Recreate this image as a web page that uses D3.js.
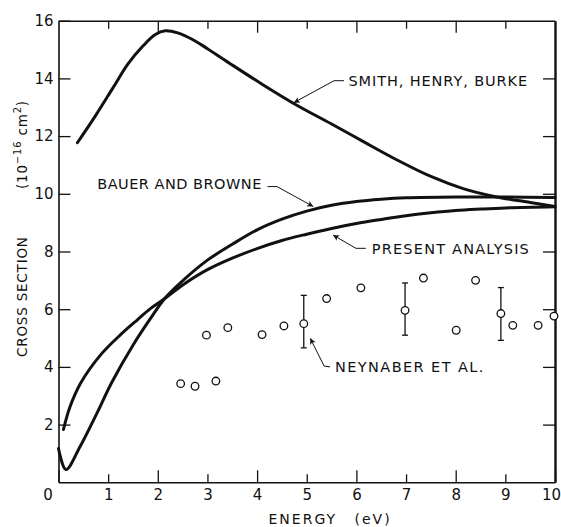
<!DOCTYPE html>
<html>
<head>
<meta charset="utf-8">
<script src="https://cdn.jsdelivr.net/npm/d3@7"></script>
<style>
body { margin: 0; background: #fff; }
svg { display: block; }
text { font-family: "DejaVu Sans", sans-serif; fill: #111; white-space: pre; }
</style>
</head>
<body>
<div id="vis"></div>
<script>
var w = 561,
    h = 527;

var energyTicks = [0, 1, 2, 3, 4, 5, 6, 7, 8, 9, 10];
var sigmaTicks = [2, 4, 6, 8, 10, 12, 14, 16];

// Smith, Henry, Burke
var shbE = [0.38, 0.75, 1.1, 1.4, 1.7, 1.95, 2.15, 2.4, 2.7, 3.0, 3.45, 4.1, 4.8, 5.5, 6.15, 6.8, 7.5, 8.15, 8.8, 9.5, 10];
var shbS = [11.77, 12.72, 13.68, 14.5, 15.12, 15.52, 15.65, 15.58, 15.35, 15.03, 14.52, 13.8, 13.07, 12.42, 11.8, 11.19, 10.6, 10.18, 9.9, 9.7, 9.56];

// Bauer and Browne
var bbE = [0, 0.15, 0.43, 0.77, 1.07, 1.5, 1.85, 2.14, 2.51, 3.0, 3.5, 4.0, 4.5, 5.0, 5.5, 6.0, 6.5, 7.0, 8.0, 9.0, 10];
var bbS = [1.17, 0.44, 1.22, 2.38, 3.45, 4.75, 5.67, 6.37, 7.0, 7.7, 8.25, 8.75, 9.12, 9.4, 9.6, 9.73, 9.81, 9.86, 9.89, 9.89, 9.87];

// present analysis
var paE = [0.1, 0.23, 0.45, 0.84, 1.24, 1.6, 1.85, 2.14, 2.51, 3.0, 3.5, 4.0, 4.5, 5.0, 5.5, 6.0, 6.5, 7.0, 7.5, 8.0, 8.5, 9.0, 10];
var paS = [1.83, 2.61, 3.45, 4.4, 5.1, 5.65, 6.02, 6.37, 6.85, 7.37, 7.77, 8.1, 8.38, 8.6, 8.8, 8.97, 9.11, 9.24, 9.34, 9.42, 9.47, 9.51, 9.55];

// Neynaber et al. (measured)
var neyE = [2.46, 2.75, 2.98, 3.17, 3.41, 4.10, 4.54, 4.94, 5.40, 6.09, 6.98, 7.35, 8.01, 8.40, 8.91, 9.15, 9.66, 9.98];
var neyS = [3.42, 3.33, 5.10, 3.51, 5.36, 5.12, 5.42, 5.50, 6.37, 6.74, 5.96, 7.08, 5.27, 7.00, 5.85, 5.44, 5.44, 5.76];
var barE = [4.94, 6.98, 8.91];
var barLo = [4.66, 5.10, 4.92];
var barHi = [6.48, 6.91, 6.75];

// labels: text position, then leader points ending at the arrow tip (data units)
var labels = [
    {text: "SMITH, HENRY, BURKE", at: [5.84, 13.72], ls: 0.9, lead: [[5.75, 13.92], [5.55, 13.92], [4.74, 13.16]]},
    {text: "BAUER AND BROWNE", at: [0.78, 10.15], ls: 0.5, lead: [[4.21, 10.25], [4.40, 10.25], [5.13, 9.56]]},
    {text: "PRESENT ANALYSIS", at: [6.31, 7.93], ls: 1.2, lead: [[6.19, 8.11], [5.99, 8.11], [5.53, 8.57]]},
    {text: "NEYNABER ET AL.", at: [5.57, 3.82], ls: 1.4, lead: [[5.47, 4.0], [5.35, 4.03], [5.07, 4.99]]}
];

var x = d3.scaleLinear().domain([0, 10]).range([58.5, 555]);
var y = d3.scaleLinear().domain([0, 16]).range([482.3, 20.7]);

var svg = d3.select("#vis").append("svg")
    .attr("width", w)
    .attr("height", h);

svg.append("defs").append("marker")
    .attr("id", "arr")
    .attr("viewBox", "0 0 10 10")
    .attr("refX", 10).attr("refY", 5)
    .attr("markerWidth", 10).attr("markerHeight", 6)
    .attr("markerUnits", "userSpaceOnUse")
    .attr("orient", "auto")
    .append("path")
    .attr("d", "M0,0 L10,5 L0,10 L2.5,5 Z")
    .attr("fill", "#111");

var styleAxis = function(g){
    g.attr("font-family", null).attr("font-size", null);
    g.select(".domain").attr("stroke", "#111").attr("stroke-width", 1.6);
    g.selectAll(".tick line").attr("stroke", "#111").attr("stroke-width", 1.3);
    g.selectAll(".tick text").attr("font-size", 15);
}

var gx = svg.append("g")
    .attr("transform", "translate(0," + y(0) + ")")
    .call(d3.axisBottom(x).tickValues(energyTicks).tickSize(-12).tickSizeOuter(0).tickPadding(7).tickFormat(d3.format("d")))
    .call(styleAxis);
gx.selectAll(".tick line").attr("y2", function(d){ return d % 2 ? -8 : -12; });
gx.selectAll(".tick text").attr("dx", function(d){ return d === 0 ? -11 : (d === 10 ? -4 : 0); });

var gt = svg.append("g")
    .attr("transform", "translate(0," + y(16) + ")")
    .call(d3.axisTop(x).tickValues(energyTicks.slice(1, 10)).tickSize(-12).tickSizeOuter(0).tickFormat(""))
    .call(styleAxis);
gt.selectAll(".tick line").attr("y2", function(d){ return d % 2 ? 8 : 12; });

svg.append("g")
    .attr("transform", "translate(" + x(0) + ",0)")
    .call(d3.axisLeft(y).tickValues(sigmaTicks).tickSize(-12).tickSizeOuter(0).tickPadding(5))
    .call(styleAxis);

svg.append("g")
    .attr("transform", "translate(" + x(10) + ",0)")
    .call(d3.axisRight(y).tickValues(sigmaTicks.slice(0, 7)).tickSize(-12).tickSizeOuter(0).tickFormat(""))
    .call(styleAxis)
    .select(".domain").attr("stroke-width", 2.4);

// axis titles
svg.append("text")
    .attr("x", x(0) + 210).attr("y", 524)
    .attr("font-size", 14).attr("letter-spacing", 2)
    .text("ENERGY");
svg.append("text")
    .attr("x", x(0) + 296).attr("y", 524)
    .attr("font-size", 14).attr("letter-spacing", 2)
    .text("(eV)");

svg.append("text")
    .attr("transform", "translate(27,357) rotate(-90)")
    .attr("font-size", 13.5).attr("letter-spacing", 0.8)
    .text("CROSS SECTION");
var yt = svg.append("text")
    .attr("transform", "translate(27,189) rotate(-90)")
    .attr("font-size", 13.5).attr("letter-spacing", 0.8);
yt.append("tspan").text("(10");
yt.append("tspan").attr("dy", -6).attr("font-size", 10).text("−16");
yt.append("tspan").attr("dy", 6).text(" cm");
yt.append("tspan").attr("dy", -6).attr("font-size", 10).text("2");
yt.append("tspan").attr("dy", 6).text(")");

// curves
var line = d3.line()
    .x(function(d){ return x(d[0]); })
    .y(function(d){ return y(d[1]); })
    .curve(d3.curveCatmullRom.alpha(0.5));

svg.selectAll("path.curve")
    .data([d3.zip(shbE, shbS), d3.zip(bbE, bbS), d3.zip(paE, paS)])
    .enter().append("path")
    .attr("class", "curve")
    .attr("d", line)
    .attr("fill", "none")
    .attr("stroke", "#111")
    .attr("stroke-width", 3)
    .attr("stroke-linecap", "round");

// error bars
var bars = svg.selectAll("g.bar")
    .data(d3.zip(barE, barLo, barHi))
    .enter().append("g")
    .attr("class", "bar")
    .attr("stroke", "#111")
    .attr("stroke-width", 1.3);
bars.append("line")
    .attr("x1", function(d){ return x(d[0]); }).attr("x2", function(d){ return x(d[0]); })
    .attr("y1", function(d){ return y(d[1]); }).attr("y2", function(d){ return y(d[2]); });
bars.append("line")
    .attr("x1", function(d){ return x(d[0]) - 3; }).attr("x2", function(d){ return x(d[0]) + 3; })
    .attr("y1", function(d){ return y(d[1]); }).attr("y2", function(d){ return y(d[1]); });
bars.append("line")
    .attr("x1", function(d){ return x(d[0]) - 3; }).attr("x2", function(d){ return x(d[0]) + 3; })
    .attr("y1", function(d){ return y(d[2]); }).attr("y2", function(d){ return y(d[2]); });

svg.selectAll("circle.pt")
    .data(d3.zip(neyE, neyS))
    .enter().append("circle")
    .attr("class", "pt")
    .attr("cx", function(d){ return x(d[0]); })
    .attr("cy", function(d){ return y(d[1]); })
    .attr("r", 3.8)
    .attr("fill", "#fff")
    .attr("stroke", "#111")
    .attr("stroke-width", 1.3);

// labels with leaders
var straight = d3.line()
    .x(function(d){ return x(d[0]); })
    .y(function(d){ return y(d[1]); });

svg.selectAll("path.lead")
    .data(labels)
    .enter().append("path")
    .attr("class", "lead")
    .attr("d", function(d){ return straight(d.lead); })
    .attr("fill", "none")
    .attr("stroke", "#111")
    .attr("stroke-width", 1)
    .attr("marker-end", "url(#arr)");

svg.selectAll("text.lab")
    .data(labels)
    .enter().append("text")
    .attr("class", "lab")
    .attr("x", function(d){ return x(d.at[0]); })
    .attr("y", function(d){ return y(d.at[1]); })
    .attr("font-size", 14.5)
    .attr("letter-spacing", function(d){ return d.ls; })
    .text(function(d){ return d.text; });
</script>
</body>
</html>
